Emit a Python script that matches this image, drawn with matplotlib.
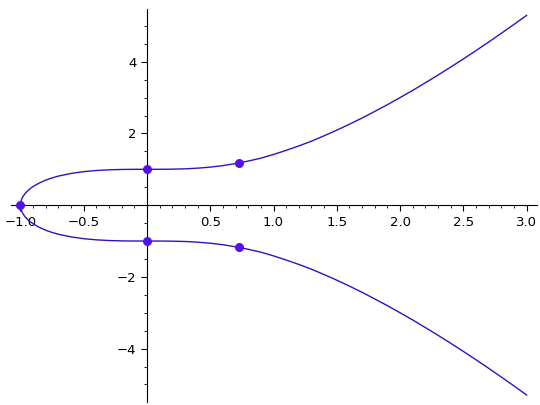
import matplotlib
matplotlib.use("Agg")
import matplotlib.pyplot as plt
from matplotlib.ticker import MultipleLocator

# Upper branch of the curve
x_upper = [-1.0, -0.999, -0.995, -0.99, -0.98, -0.965, -0.95, -0.925, -0.9, -0.85, -0.8,
           -0.75, -0.7, -0.6, -0.5, -0.4, -0.3, -0.2, -0.1, 0.0, 0.1, 0.2, 0.3, 0.4,
           0.5, 0.6, 0.73, 0.8, 0.9, 1.0, 1.1, 1.2, 1.3, 1.4, 1.5, 1.6, 1.7, 1.8,
           1.9, 2.0, 2.1, 2.2, 2.3, 2.4, 2.5, 2.6, 2.7, 2.8, 2.9, 3.0]
y_upper = [0.0, 0.055, 0.122, 0.172, 0.243, 0.319, 0.378, 0.456, 0.521, 0.621, 0.699,
           0.761, 0.811, 0.885, 0.935, 0.967, 0.986, 0.996, 0.9995, 1.0, 1.0005, 1.004, 1.013, 1.032,
           1.061, 1.103, 1.179, 1.230, 1.311, 1.414, 1.530, 1.652, 1.785, 1.935, 2.092, 2.257, 2.431, 2.614,
           2.802, 3.0, 3.201, 3.413, 3.628, 3.850, 4.077, 4.310, 4.548, 4.791, 5.039, 5.292]
# Lower branch of the curve
x_lower = x_upper
y_lower = [-v for v in y_upper]

# Marked points
pts_x = [-1.0, 0.0, 0.0, 0.73, 0.73]
pts_y = [0.0, 1.0, -1.0, 1.179, -1.179]

xticks = [-1.0, -0.5, 0.5, 1.0, 1.5, 2.0, 2.5, 3.0]
yticks = [-4, -2, 2, 4]

line_color = "#2c14c4"
point_color = "#5211ee"

fig = plt.figure(figsize=(5.4, 4.05), dpi=100)
ax = fig.add_axes([11 / 540, 1 - 401.7 / 405, (536.7 - 11) / 540, (401.7 - 9) / 405])
ax.plot(x_upper, y_upper, color=line_color, lw=1.0)
ax.plot(x_lower, y_lower, color=line_color, lw=1.0)
ax.scatter(pts_x, pts_y, s=30, color=point_color, zorder=5)

ax.set_xlim(-1.075, 3.08)
ax.set_ylim(-5.48, 5.47)

ax.spines['left'].set_position(('data', 0))
ax.spines['bottom'].set_position(('data', 0))
ax.spines['right'].set_visible(False)
ax.spines['top'].set_visible(False)
ax.spines['left'].set_linewidth(0.8)
ax.spines['bottom'].set_linewidth(0.8)

ax.set_xticks(xticks)
ax.set_xticklabels([f"{t:.1f}".replace("-", "\u2212") for t in xticks])
ax.set_yticks(yticks)
ax.set_yticklabels([str(t).replace("-", "\u2212") for t in yticks])
ax.xaxis.set_minor_locator(MultipleLocator(0.1))
ax.yaxis.set_minor_locator(MultipleLocator(0.5))
ax.tick_params(which='major', length=4, width=0.8, labelsize=9.5)
ax.tick_params(which='minor', length=2, width=0.6)
ax.patch.set_visible(False)

fig.savefig("out.png", dpi=100)
